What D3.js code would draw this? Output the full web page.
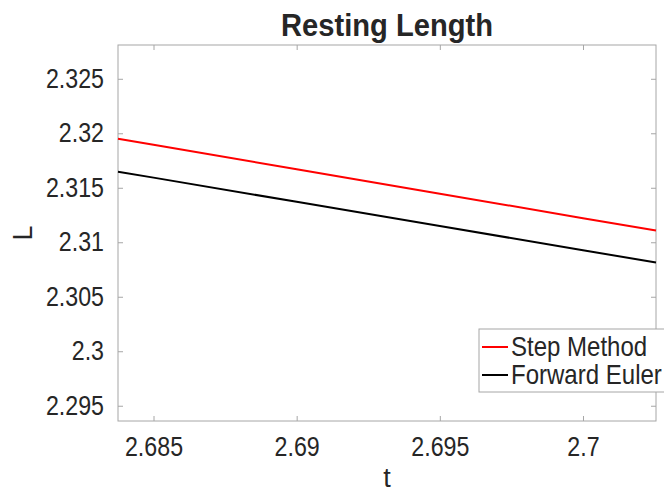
<!DOCTYPE html>
<html lang="en">
<head>
<meta charset="utf-8">
<style>
  body { margin: 0; background: white; }
  text { font-family: "Liberation Sans", Arial, sans-serif; fill: #262626; }
  .frame { fill: none; stroke: #a6a6a6; stroke-width: 1px; }
  .tick line { stroke: #a6a6a6; }
  .series { fill: none; stroke-width: 2px; }
</style>
<script src="https://cdnjs.cloudflare.com/ajax/libs/d3/7.8.5/d3.min.js"></script>
</head>
<body>
<div id="chart"></div>
<script>
// values
var tValues = [2.68376, 2.685, 2.69, 2.695, 2.7, 2.70255];
var stepMethod = [2.3195, 2.31894, 2.3167, 2.31446, 2.31221, 2.31107];
var forwardEuler = [2.31648, 2.31593, 2.31371, 2.31149, 2.30927, 2.30814];
var seriesNames = ["Step Method", "Forward Euler"];
var seriesColors = ["#ff0000", "#000000"];
var xTicks = [2.685, 2.69, 2.695, 2.7];
var xTickLabels = ["2.685", "2.69", "2.695", "2.7"];
var yTicks = [2.295, 2.3, 2.305, 2.31, 2.315, 2.32, 2.325];
var yTickLabels = ["2.295", "2.3", "2.305", "2.31", "2.315", "2.32", "2.325"];

var width = 664, height = 493;
var plot = {left: 118, right: 656, top: 45, bottom: 421};

var svg = d3.select("#chart").append("svg")
    .attr("width", width)
    .attr("height", height);

var x = d3.scaleLinear().domain([2.68376, 2.70255]).range([plot.left, plot.right]);
var y = d3.scaleLinear().domain([2.2936, 2.3281]).range([plot.bottom, plot.top]);

var fmtX = function(d) { return xTickLabels[xTicks.indexOf(d)]; };
var fmtY = function(d) { return yTickLabels[yTicks.indexOf(d)]; };

// squeeze text horizontally (matlab font looks narrow and tall)
function condense(sel, sx) {
  sel.each(function() {
    var t = d3.select(this);
    var x0 = +t.attr("x") || 0;
    t.attr("x", x0 / sx).attr("transform", "scale(" + sx + ",1)");
  });
}

// bottom + top axes
var xb = svg.append("g").attr("transform", "translate(0," + plot.bottom + ")")
    .call(d3.axisBottom(x).tickValues(xTicks).tickFormat(fmtX).tickSizeInner(-5).tickSizeOuter(0).tickPadding(16));
var xt = svg.append("g").attr("transform", "translate(0," + plot.top + ")")
    .call(d3.axisTop(x).tickValues(xTicks).tickFormat("").tickSizeInner(-5).tickSizeOuter(0));
var yl = svg.append("g").attr("transform", "translate(" + plot.left + ",0)")
    .call(d3.axisLeft(y).tickValues(yTicks).tickFormat(fmtY).tickSizeInner(-5).tickSizeOuter(0).tickPadding(14));
var yr = svg.append("g").attr("transform", "translate(" + plot.right + ",0)")
    .call(d3.axisRight(y).tickValues(yTicks).tickFormat("").tickSizeInner(-5).tickSizeOuter(0));

[xb, xt, yl, yr].forEach(function(g) {
  g.select(".domain").remove();
  g.selectAll("text").style("font-size", "27px").attr("fill", "#262626");
});
condense(xb.selectAll("text"), 0.86);
condense(yl.selectAll("text"), 0.86);

svg.append("rect").attr("class", "frame")
    .attr("x", plot.left).attr("y", plot.top)
    .attr("width", plot.right - plot.left).attr("height", plot.bottom - plot.top);

// lines
var line = d3.line()
    .x(function(d, i) { return x(tValues[i]); })
    .y(function(d) { return y(d); });

[stepMethod, forwardEuler].forEach(function(s, i) {
  svg.append("path").attr("class", "series")
      .attr("d", line(s))
      .attr("stroke", seriesColors[i]);
});

// title and axis labels
var title = svg.append("text")
    .attr("x", (plot.left + plot.right) / 2).attr("y", 36)
    .attr("text-anchor", "middle")
    .style("font-size", "31px").style("font-weight", "bold")
    .attr("fill", "#000")
    .text("Resting Length");
condense(title, 0.94);

svg.append("text")
    .attr("x", (plot.left + plot.right) / 2).attr("y", 487)
    .attr("text-anchor", "middle")
    .style("font-size", "27px")
    .text("t");

svg.append("text")
    .attr("transform", "translate(32," + (plot.top + plot.bottom) / 2 + ") rotate(-90)")
    .attr("text-anchor", "middle")
    .style("font-size", "27px")
    .text("L");

// legend
var leg = svg.append("g");
leg.append("rect")
    .attr("x", 479).attr("y", 329).attr("width", 200).attr("height", 63)
    .attr("fill", "white").attr("stroke", "#a6a6a6");
seriesNames.forEach(function(name, i) {
  var ly = 347 + i * 28;
  leg.append("line")
      .attr("x1", 482).attr("x2", 508).attr("y1", ly).attr("y2", ly)
      .attr("stroke", seriesColors[i]).attr("stroke-width", 2);
  var lt = leg.append("text")
      .attr("x", 511).attr("y", ly + 9)
      .style("font-size", "27px")
      .attr("fill", "#000")
      .text(name);
  condense(lt, 0.89);
});
</script>
</body>
</html>
